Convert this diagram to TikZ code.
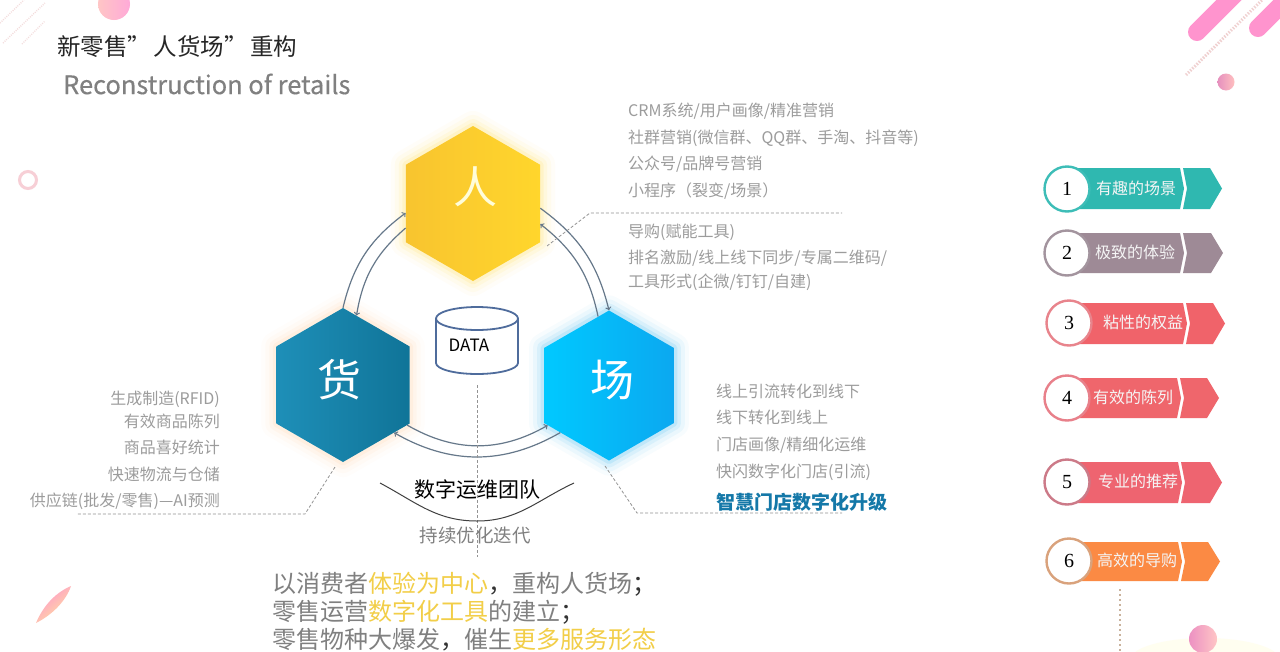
\documentclass[tikz,border=0pt]{standalone}
\usepackage{fontspec}
\setmainfont{Noto Sans CJK SC}
\newfontfamily\numfont{Liberation Serif}
\newfontfamily\subfont[FakeBold=0.35]{Noto Sans CJK SC}
\usepackage{xcolor}
\usetikzlibrary{shapes.geometric}
\definecolor{txtgray}{HTML}{9C9C9C}
\definecolor{midgray}{HTML}{808080}
\definecolor{hilite}{HTML}{F2CE48}
\definecolor{arcgray}{HTML}{66788A}
\definecolor{dbblue}{HTML}{4F6C9C}
\definecolor{pinkbar}{HTML}{FF94CE}
\definecolor{renleft}{HTML}{F8C42F}
\definecolor{renright}{HTML}{FFD62C}
\definecolor{huoleft}{HTML}{1E8FB8}
\definecolor{huoright}{HTML}{107498}
\definecolor{changleft}{HTML}{00C9FF}
\definecolor{changright}{HTML}{0BA8F0}
\definecolor{smartblue}{HTML}{1478A8}
\newcommand{\fwcomma}{\textcolor{black!80}{\symbol{"FF0C}}}
\newcommand{\fwsemi}{\textcolor{black!80}{\symbol{"FF1B}}}
\tikzset{
  hexnode/.style={regular polygon,regular polygon sides=6,shape border rotate=30,inner sep=0pt,minimum size=#1},
  glow/.style={
    preaction={draw=#1,line width=30pt,opacity=.03,line join=round},
    preaction={draw=#1,line width=22pt,opacity=.05,line join=round},
    preaction={draw=#1,line width=14pt,opacity=.08,line join=round},
    preaction={draw=#1,line width=7pt,opacity=.12,line join=round}},
  hextxt/.style={text=#1,inner sep=0pt,font=\fontsize{44}{50}\selectfont},
  listtxt/.style={text=txtgray,inner sep=0pt,yshift=-1pt,font=\fontsize{16}{20}\selectfont},
  tagtxt/.style={text=white!92!gray,inner sep=0pt,font=\fontsize{16}{20}\selectfont},
  guide/.style={dash pattern=on 3pt off 2pt,gray!85,line width=.8pt},
  cyc/.style={->,arcgray,line width=1.2pt},
  sumtxt/.style={anchor=west,inner sep=0pt,text=midgray,font=\fontsize{24}{28}\selectfont},
  decor/.style={line cap=round}
}
\begin{document}
\begin{tikzpicture}[x=1pt,y=-1pt]
\useasboundingbox (0,0) rectangle (1280,651);
\clip (0,0) rectangle (1280,651);
\fill[white] (0,0) rectangle (1280,651);
% corners
\draw[pink!80!gray!45,line width=1.4pt,dash pattern=on 1pt off 1.2pt] (0,23) -- (24,0) (3,43) -- (45,3) (22,44) -- (45,21);
\shade[left color=pink!90!white,right color=pinkbar!80] (114,4) circle (16);
\draw[pink!70!purple!40,line width=3pt] (28,180) circle (8.5);
\shade[left color=pinkbar,right color=pink!60!yellow!70,shading angle=40] (36,623) .. controls (44,604) and (57,592) .. (71,586) .. controls (66,601) and (52,615) .. (36,623) -- cycle;
\draw[decor,pinkbar,line width=18pt] (1197,32) -- (1235,-6);
\draw[decor,pinkbar,line width=18pt] (1258,28) -- (1296,-10);
\draw[pink!80!gray!60,line width=3pt,dash pattern=on 1.5pt off 1.5pt] (1186,75) -- (1262,0);
\shade[left color=pinkbar!80!gray,right color=pink] (1226,82) circle (8.5);
\fill[yellow!6] (1205,660) ellipse (75 and 22);
\shade[left color=pinkbar!85!gray,right color=pink!90] (1203,639) circle (14);
% title
\node[anchor=west,inner sep=0pt,text=black!85,font=\fontsize{23.5}{28}\selectfont] (title) at (57,47) {新零售”\hspace{2.5pt}人货场”\hspace{2.5pt}重构};
\node[anchor=west,inner sep=0pt,text=midgray,font=\fontsize{25.4}{30}\selectfont\subfont] (subtitle) at (63,84) {Reconstruction of retails};
% three hexagons
\node[hexnode=155pt,glow=renright,left color=renleft,right color=renright] (ren) at (473,203.5) {};
\node[hexnode=154pt,glow=orange!45,left color=huoleft,right color=huoright] (huo) at (343,385) {};
\node[hexnode=150pt,glow=changright,left color=changleft,right color=changright] (chang) at (609,385.5) {};
\node[hextxt=yellow!15] (rentxt) at (475,187) {人};
\node[hextxt=white] (huotxt) at (339,380) {货};
\node[hextxt=white] (changtxt) at (612,380) {场};
% arcs
\draw[cyc] (huo.90) to[bend left=20] (ren.188);
\draw[cyc] (ren.200) to[bend right=20] (huo.79);
\draw[cyc] (ren.-4) to[bend left=20] (chang.90);
\draw[cyc] (chang.99) to[bend right=20] (ren.-17);
\draw[cyc] (huo.-32) to[bend right=30] (chang.213);
\draw[cyc] (chang.224) to[bend left=30] (huo.-43);
% data
\draw[dbblue,line width=1.8pt,fill=white] (436,318.5) -- (436,363) arc[start angle=180,end angle=360,x radius=41pt,y radius=11pt] -- (518,318.5);
\draw[dbblue,line width=1.8pt,fill=white] (477,318.5) ellipse (41pt and 11.5pt);
\node[inner sep=0pt,font=\fontsize{17}{20}\selectfont] (dbtxt) at (469,345) {DATA};
% guides
\coordinate (cenup) at (477,385);
\coordinate (cenlow) at (477,557);
\draw[guide] (cenup) -- (cenlow);
\coordinate (ga) at (547,246);
\coordinate (gb) at (590,213);
\coordinate (gc) at (842,213);
\draw[guide] (ga) -- (gb) -- (gc);
\coordinate (ha) at (335,467);
\coordinate (hb) at (305,514);
\coordinate (hc) at (76,514);
\draw[guide] (ha) -- (hb) -- (hc);
\coordinate (ka) at (605,466);
\coordinate (kb) at (637,513);
\coordinate (kc) at (842,513);
\draw[guide] (ka) -- (kb) -- (kc);
% team
\node[inner sep=0pt,font=\fontsize{21}{25}\selectfont] (team) at (477,489) {数字运维团队};
\node[inner sep=0pt,text=midgray,font=\fontsize{18.5}{22}\selectfont] (iter) at (475,535) {持续优化迭代};
\coordinate (sl) at (380,483);
\coordinate (sm) at (477,521);
\coordinate (sr) at (574,483);
\draw[black!75,line width=1pt] (sl) to[out=-28,in=180] (sm) to[out=0,in=205] (sr);
% lists
\foreach \yy/\txt [count=\i] in {110/{CRM系统/用户画像/精准营销},137/{社群营销(微信群、QQ群、手淘、抖音等)},163/{公众号/品牌号营销},190/{小程序\symbol{"FF08}裂变/场景\symbol{"FF09}},231/{导购(赋能工具)},257/{排名激励/线上线下同步/专属二维码/},281/{工具形式(企微/钉钉/自建)}}
  \node[listtxt,anchor=west] (top\i) at (628,\yy) {\txt};
\foreach \yy/\txt [count=\i] in {398/{生成制造(RFID)},420/{有效商品陈列},446/{商品喜好统计},473/{快速物流与仓储},500/{供应链(批发/零售)—AI预测}}
  \node[listtxt,anchor=east] (lft\i) at (220,\yy) {\txt};
\foreach \yy/\txt [count=\i] in {390/{线上引流转化到线下},416/{线下转化到线上},444/{门店画像/精细化运维},471/{快闪数字化门店(引流)}}
  \node[listtxt,anchor=west] (rgt\i) at (716,\yy) {\txt};
\node[anchor=west,inner sep=0pt,text=smartblue,font=\fontsize{19}{23}\selectfont\bfseries] (smart) at (716,502) {智慧门店数字化升级};
% summary
\node[sumtxt] (sum1) at (272,584) {以消费者\textcolor{hilite}{体验为中心}\fwcomma 重构人货场\fwsemi};
\node[sumtxt] (sum2) at (272,612) {零售运营\textcolor{hilite}{数字化工具}的建立\fwsemi};
\node[sumtxt] (sum3) at (272,639.5) {零售物种大爆发\fwcomma 催生\textcolor{hilite}{更多服务形态}};
% right tags
\foreach \i/\cx/\cy/\ya/\yb/\nn/\tip/\tx/\col/\edge/\txt in {
  1/1067/189/168/209/1180/1222/1136/2FB8B0/3DBDB7/有趣的场景,
  2/1067/253/233/273/1180/1223/1135/9E8A96/A3949E/极致的体验,
  3/1069/323/303/344/1183/1225/1143/F0636A/E8848C/粘性的权益,
  4/1067/398/378/418/1177/1219/1133/EF666C/E8808A/有效的陈列,
  5/1067/482/462/503/1178/1222/1138/EE6470/CC7A88/专业的推荐,
  6/1069/561/542/581/1178/1220/1137/FB8A44/D9A27C/高效的导购}{
  \definecolor{tagcol}{HTML}{\col}
  \definecolor{edgecol}{HTML}{\edge}
  \pgfmathsetmacro{\ym}{(\ya+\yb)/2}
  \fill[tagcol] (\cx,\ya) -- (\nn,\ya) -- (\nn+4,\ym) -- (\nn,\yb) -- (\cx,\yb) -- cycle;
  \fill[tagcol] (\nn+3,\ya) -- (\tip-12,\ya) -- (\tip,\ym) -- (\tip-12,\yb) -- (\nn+3,\yb) -- (\nn+7,\ym) -- cycle;
  \node[circle,draw=edgecol,fill=white,line width=2.4pt,minimum size=45pt,inner sep=0pt,font=\fontsize{20}{24}\selectfont\numfont] (badge\i) at (\cx,\cy) {\i};
  \node[tagtxt] (tag\i) at (\tx,\cy-1) {\txt};
}
\coordinate (dota) at (1120,589);
\coordinate (dotb) at (1120,651);
\draw[orange!30!gray!60,line width=1.4pt,dash pattern=on 2pt off 3pt] (dota) -- (dotb);
\end{tikzpicture}
\end{document}
